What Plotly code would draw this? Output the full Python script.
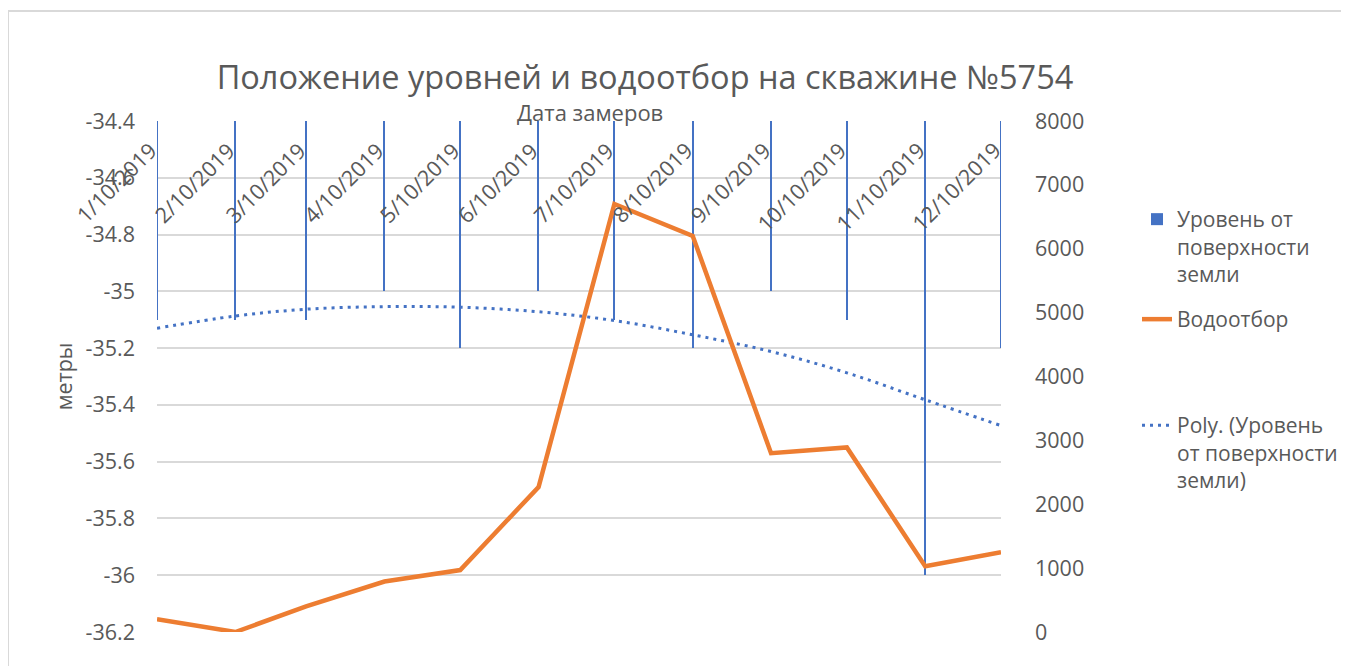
import plotly.graph_objects as go

# ---- data ----
dates = ["2019-01-10", "2019-02-10", "2019-03-10", "2019-04-10", "2019-05-10", "2019-06-10",
         "2019-07-10", "2019-08-10", "2019-09-10", "2019-10-10", "2019-11-10", "2019-12-10"]
date_labels = ["1/10/2019", "2/10/2019", "3/10/2019", "4/10/2019", "5/10/2019", "6/10/2019",
               "7/10/2019", "8/10/2019", "9/10/2019", "10/10/2019", "11/10/2019", "12/10/2019"]
level = [-35.1, -35.1, -35.1, -35.0, -35.2, -35.0, -35.1, -35.2, -35.0, -35.1, -36.0, -35.2]
water = [200, 0, 400, 790, 970, 2270, 6700, 6200, 2800, 2890, 1030, 1250]
level_trend = [-35.130, -35.087, -35.063, -35.054, -35.056, -35.072, -35.103, -35.153,
               -35.212, -35.287, -35.382, -35.473]
left_ticks = [-34.4, -34.6, -34.8, -35.0, -35.2, -35.4, -35.6, -35.8, -36.0, -36.2]
left_tick_text = ["-34.4", "-34.6", "-34.8", "-35", "-35.2", "-35.4", "-35.6", "-35.8", "-36", "-36.2"]
right_ticks = [0, 1000, 2000, 3000, 4000, 5000, 6000, 7000, 8000]

title_text = "Положение уровней и водоотбор на скважине №5754"
x_title = "Дата замеров"
y_title = "метры"
name_level = "Уровень от<br>поверхности<br>земли"
name_water = "Водоотбор"
name_trend = "Poly. (Уровень<br>от поверхности<br>земли)"

# ---- layout geometry (page has an 8px body margin) ----
OFF = 8
W, H = 1341, 658
ML, MR, MT, MB = 149, 348, 113, 34
PW, PH = W - ML - MR, H - MT - MB


def px_x(sx):
    return (sx - OFF - ML) / PW


def px_y(sy):
    return (H - MB - (sy - OFF)) / PH


FONT = "Open Sans"
GREY = "#595959"
BLUE = "#4472C4"
ORANGE = "#ED7D31"
TICK = 21.5

fig = go.Figure()
fig.add_trace(go.Bar(x=dates, y=level, name=name_level, width=0.5 * 86400000,
                     marker=dict(color=BLUE, line=dict(width=0)), legend="legend"))
fig.add_trace(go.Scatter(x=dates, y=water, name=name_water, mode="lines", yaxis="y2",
                         line=dict(color=ORANGE, width=4.5), legend="legend2"))
fig.add_trace(go.Scatter(x=dates, y=level_trend, name=name_trend, mode="lines",
                         line=dict(color=BLUE, width=3, dash="3px,5px", shape="spline"),
                         legend="legend3"))

annotations = []
for d, lab in zip(dates, date_labels):
    annotations.append(dict(x=d, y=-34.4, xref="x", yref="y", text=lab, showarrow=False,
                            textangle=-45, xanchor="right", yanchor="top", xshift=8, yshift=-12,
                            font=dict(family=FONT, size=TICK, color=GREY)))
annotations.append(dict(x=px_x(590), y=px_y(112), xref="paper", yref="paper", text=x_title,
                        showarrow=False, xanchor="center", yanchor="middle",
                        font=dict(family=FONT, size=22, color=GREY)))

legend_common = dict(font=dict(family=FONT, size=21, color=GREY), bgcolor="rgba(0,0,0,0)",
                     valign="top", xanchor="left", yanchor="top", borderwidth=0)

fig.update_layout(
    width=W, height=H,
    margin=dict(l=ML, r=MR, t=MT, b=MB, autoexpand=False),
    paper_bgcolor="white", plot_bgcolor="white",
    font=dict(family=FONT, color=GREY, size=TICK),
    showlegend=True,
    title=dict(text=title_text, x=(645 - OFF) / W, xanchor="center",
               y=1 - (78 - OFF) / H, yanchor="middle",
               font=dict(family=FONT, size=32.5, color=GREY)),
    xaxis=dict(type="date", range=[dates[0], dates[-1]], showticklabels=False, showgrid=False,
               zeroline=False, showline=False, ticks=""),
    yaxis=dict(range=[-36.2, -34.4], tickvals=left_ticks, ticktext=left_tick_text,
               showgrid=True, gridcolor="#d9d9d9", gridwidth=1.5, zeroline=False, showline=False,
               ticklabelstandoff=21, tickfont=dict(family=FONT, size=TICK, color=GREY),
               title=dict(text=y_title, standoff=7, font=dict(family=FONT, size=TICK, color=GREY))),
    yaxis2=dict(range=[0, 8000], tickvals=right_ticks, overlaying="y", side="right",
                showgrid=False, zeroline=False, showline=False, ticklabelstandoff=33,
                tickfont=dict(family=FONT, size=TICK, color=GREY)),
    legend=dict(x=px_x(1137), y=px_y(199), **legend_common),
    legend2=dict(x=px_x(1137), y=px_y(299), **legend_common),
    legend3=dict(x=px_x(1137), y=px_y(405), **legend_common),
    annotations=annotations,
    shapes=[dict(type="rect", xref="paper", yref="paper", x0=px_x(8), x1=px_x(1400),
                 y0=px_y(700), y1=px_y(11), line=dict(color="#d9d9d9", width=2),
                 fillcolor="rgba(0,0,0,0)", layer="below")],
    bargap=0,
)

fig.write_html("out.html")
